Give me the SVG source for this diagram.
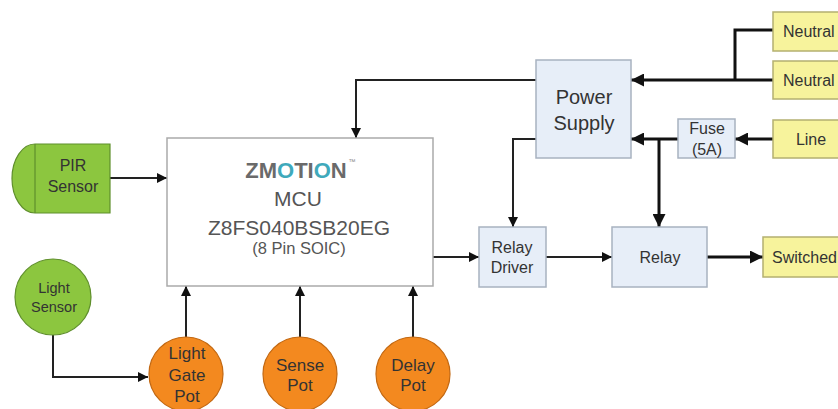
<svg xmlns="http://www.w3.org/2000/svg" width="838" height="409" viewBox="0 0 838 409">
<defs>
<marker id="ah" viewBox="0 0 10 10" refX="10" refY="5" markerWidth="10" markerHeight="10" markerUnits="userSpaceOnUse" orient="auto">
<path d="M0,0 L10,5 L0,10 z" fill="#111"/>
</marker>
<marker id="ahb" viewBox="0 0 10 10" refX="10" refY="5" markerWidth="13" markerHeight="13" markerUnits="userSpaceOnUse" orient="auto">
<path d="M0,0 L10,5 L0,10 z" fill="#111"/>
</marker>
</defs>
<style>
text{font-family:"Liberation Sans",Arial,sans-serif;fill:#333;text-anchor:middle}
.blue{fill:#e7eef8;stroke:#a8b2c0;stroke-width:1.5}
.yel{fill:#f7f39c;stroke:#b4b070;stroke-width:1.5}
.grn{fill:#8cc63f;stroke:#5f8f2c;stroke-width:1.2}
.org{fill:#f3891f;stroke:#c26812;stroke-width:1.2}
.mcu{fill:#fff;stroke:#aaa;stroke-width:1.5}
.c{fill:none;stroke:#222;stroke-width:2}
.cb{fill:none;stroke:#111;stroke-width:3}
.f16{font-size:16px}
.f20{font-size:20px}
.mt{fill:#555;font-size:21px}
</style>
<rect width="838" height="409" fill="#fff"/>
<g id="connectors">
<path class="c" d="M110,178 H167" marker-end="url(#ah)"/>
<path class="c" d="M53,335 V377 H148" marker-end="url(#ah)"/>
<path class="c" d="M186,337 V286" marker-end="url(#ah)"/>
<path class="c" d="M300,337 V286" marker-end="url(#ah)"/>
<path class="c" d="M413,337 V286" marker-end="url(#ah)"/>
<path class="c" d="M536,80 H356 V138" marker-end="url(#ah)"/>
<path class="c" d="M536,139 H513 V227" marker-end="url(#ah)"/>
<path class="c" d="M433,257 H479" marker-end="url(#ah)"/>
<path class="c" d="M546,257 H612" marker-end="url(#ah)"/>
<path class="cb" d="M707,257 H763" marker-end="url(#ahb)"/>
<path class="cb" d="M773,30 H735 V80"/>
<path class="cb" d="M773,80 H631" marker-end="url(#ahb)"/>
<path class="cb" d="M773,139 H735" marker-end="url(#ahb)"/>
<path class="cb" d="M678,139 H631" marker-end="url(#ahb)"/>
<path class="cb" d="M659,139 V227" marker-end="url(#ahb)"/>
</g>
<g id="mcu">
<rect class="mcu" x="167" y="138" width="266" height="148"/>
<text x="296" y="178" style="font-size:22px;font-weight:bold;fill:#6a6a6a"><tspan>ZM</tspan><tspan fill="#3fa9bb">O</tspan><tspan>TI</tspan><tspan fill="#3fa9bb">O</tspan><tspan>N</tspan></text>
<text x="352" y="164" style="font-size:7px;fill:#888">™</text>
<text class="mt" x="298" y="206">MCU</text>
<text class="mt" x="299" y="235">Z8FS040BSB20EG</text>
<text x="299" y="254" style="font-size:16.5px;fill:#555">(8 Pin SOIC)</text>
</g>
<g id="pir">
<path class="grn" d="M35,144 H110 V213 H35 A23,34.5 0 0 1 35,144 z"/>
<line x1="35" y1="144" x2="35" y2="213" stroke="#5f8f2c" stroke-width="1.2"/>
<text class="f16" x="73" y="171">PIR</text>
<text class="f16" x="73" y="192">Sensor</text>
</g>
<g id="light-sensor">
<circle class="grn" cx="53" cy="297" r="38"/>
<text x="54" y="293" style="font-size:14.5px">Light</text>
<text x="54" y="312" style="font-size:14.5px">Sensor</text>
</g>
<g id="light-gate-pot">
<circle class="org" cx="186" cy="374" r="37"/>
<text x="187" y="359" style="font-size:17px">Light</text>
<text x="187" y="381" style="font-size:17px">Gate</text>
<text x="187" y="402" style="font-size:17px">Pot</text>
</g>
<g id="sense-pot">
<circle class="org" cx="300" cy="374" r="37"/>
<text x="300" y="371" style="font-size:17px">Sense</text>
<text x="300" y="391" style="font-size:17px">Pot</text>
</g>
<g id="delay-pot">
<circle class="org" cx="413" cy="374" r="37"/>
<text x="413" y="371" style="font-size:17px">Delay</text>
<text x="413" y="391" style="font-size:17px">Pot</text>
</g>
<g id="power-supply">
<rect class="blue" x="536" y="60" width="95" height="98"/>
<text class="f20" x="584" y="104">Power</text>
<text class="f20" x="584" y="130">Supply</text>
</g>
<g id="fuse">
<rect class="blue" x="678" y="119" width="57" height="39"/>
<text class="f16" x="707" y="134">Fuse</text>
<text class="f16" x="707" y="155">(5A)</text>
</g>
<g id="neutral1">
<rect class="yel" x="773" y="12" width="75" height="39"/>
<text class="f16" x="783" y="37" style="text-anchor:start">Neutral</text>
</g>
<g id="neutral2">
<rect class="yel" x="773" y="61" width="75" height="38"/>
<text class="f16" x="783" y="86" style="text-anchor:start">Neutral</text>
</g>
<g id="line">
<rect class="yel" x="773" y="120" width="75" height="38"/>
<text class="f16" x="811" y="145">Line</text>
</g>
<g id="relay-driver">
<rect class="blue" x="479" y="227" width="67" height="60"/>
<text class="f16" x="512" y="253">Relay</text>
<text class="f16" x="512" y="273">Driver</text>
</g>
<g id="relay">
<rect class="blue" x="612" y="227" width="95" height="60"/>
<text class="f16" x="660" y="263">Relay</text>
</g>
<g id="switched">
<rect class="yel" x="763" y="237" width="85" height="40"/>
<text class="f16" x="772" y="263" style="text-anchor:start">Switched</text>
</g>
</svg>
